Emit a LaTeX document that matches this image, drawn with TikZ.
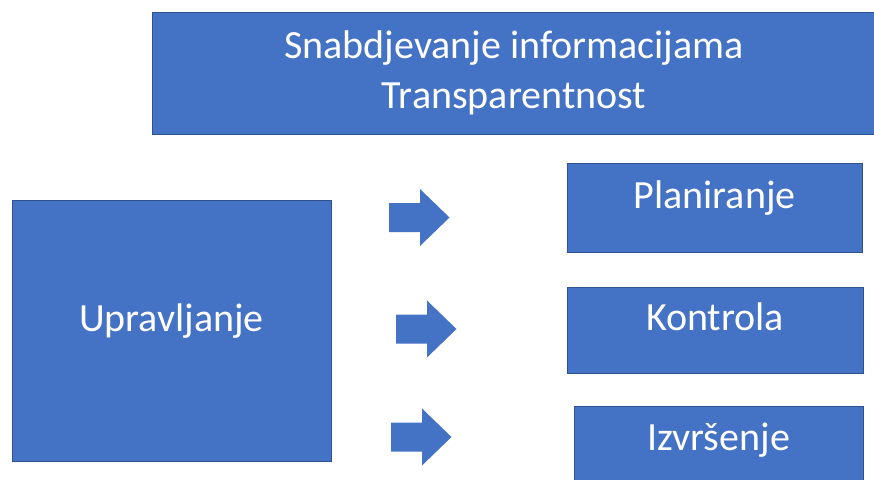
\documentclass[tikz,border=0pt]{standalone}
\usepackage{fontspec}
\setmainfont{Carlito}
\usepackage{xcolor}
\usetikzlibrary{calc}
\definecolor{boxfill}{HTML}{4472C4}
\definecolor{boxline}{HTML}{2F528F}
\tikzset{%
    block/.style={inner sep=0pt,outer sep=0pt,shape=rectangle,draw=boxline,line width=1pt,fill=boxfill,text=white,align=center,font=\fontsize{40}{50}\selectfont},
    single block/.style={block,text height=0.55em,text depth=0.38em},
    blockarrow/.style={fill=boxfill,draw=none},
}
\begin{document}
\begin{tikzpicture}[x=1pt,y=-1pt]
        \useasboundingbox (0,0) rectangle (874,479);
        \clip (0,0) rectangle (874,479);
        \node [block,minimum width=724pt,minimum height=122pt] (info) at (514,73) {Snabdjevanje informacijama\\Transparentnost};
        \node [single block,minimum width=319pt,minimum height=261pt] (upravljanje) at (171.5,331) {Upravljanje};

        \node [single block,minimum width=295pt,minimum height=89pt] (planiranje) at (714.5,207.5) {Planiranje};
        \node [single block,minimum width=296pt,minimum height=86pt] (kontrola) at (715,330) {Kontrola};
        \node [single block,minimum width=289pt,minimum height=88pt] (izvrsenje) at (718.5,450) {Izvršenje};

        \foreach \x/\y in {389/217.5,396/329,391/437}
            \fill[blockarrow] (\x,\y) ++(0,-14.5) -- ++(31,0) -- ++(0,-14) -- ++(29.5,28.5) -- ++(-29.5,28.5) -- ++(0,-14) -- ++(-31,0) -- cycle;
    \end{tikzpicture}
\end{document}
